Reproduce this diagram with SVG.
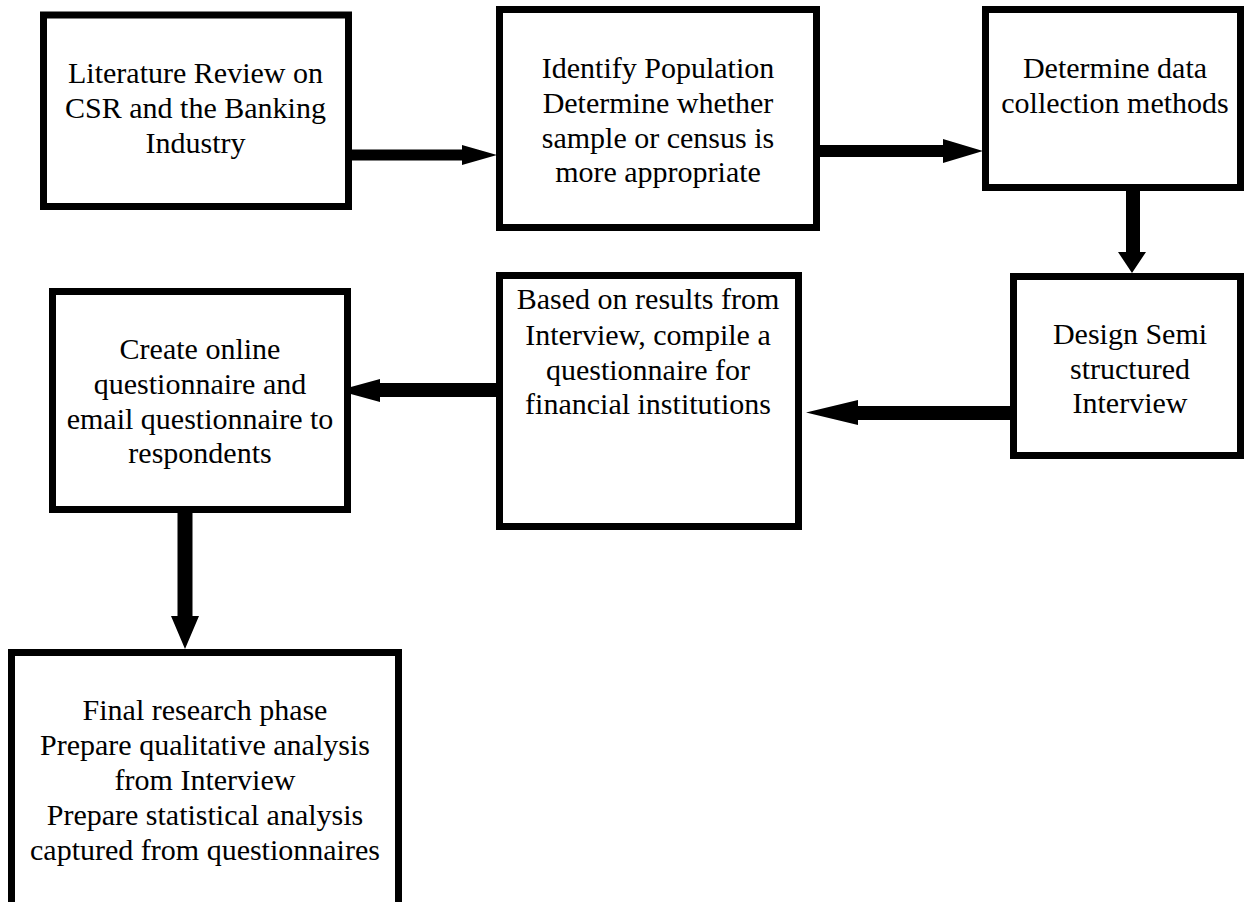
<svg xmlns="http://www.w3.org/2000/svg" width="1246" height="902" viewBox="0 0 1246 902">
<style>
.box{fill:#fff;stroke:#000;stroke-width:7}
.t{font-family:"Liberation Serif","Times New Roman",serif;font-size:30px;fill:#000;text-anchor:middle}
.arr{fill:#000}
</style>
<rect width="1246" height="902" fill="#fff"/>
<g id="connectors">
<polygon class="arr" points="352,149.5 462,149.5 462,145 497,155 462,165 462,160.5 352,160.5"/>
<polygon class="arr" points="820,145 943,145 943,139 983,151 943,163 943,157 820,157"/>
<polygon class="arr" points="1126,191 1140,191 1140,252 1146,252 1132,273 1118,252 1126,252"/>
<polygon class="arr" points="1010,406 858,406 858,400 806,412.5 858,425 858,420 1010,420"/>
<polygon class="arr" points="496,383 380,383 380,379 338,390.5 380,402 380,397 496,397"/>
<polygon class="arr" points="177.5,513 192.5,513 192.5,616 199,616 185,649 171,616 177.5,616"/>
</g>
<g id="n1">
<rect class="box" x="43.5" y="15" width="305" height="191.5"/>
<text class="t" x="195.5" y="83">Literature Review on</text>
<text class="t" x="195.5" y="118">CSR and the Banking</text>
<text class="t" x="195.5" y="153">Industry</text>
</g>
<g id="n2">
<rect class="box" x="499.5" y="9.5" width="317" height="218"/>
<text class="t" x="658" y="78">Identify Population</text>
<text class="t" x="658" y="113">Determine whether</text>
<text class="t" x="658" y="148">sample or census is</text>
<text class="t" x="658" y="182">more appropriate</text>
</g>
<g id="n3">
<rect class="box" x="985.5" y="9.5" width="255" height="178"/>
<text class="t" x="1115" y="78">Determine data</text>
<text class="t" x="1115" y="113">collection methods</text>
</g>
<g id="n4">
<rect class="box" x="1013.5" y="276.5" width="227" height="179"/>
<text class="t" x="1130" y="344">Design Semi</text>
<text class="t" x="1130" y="379">structured</text>
<text class="t" x="1130" y="413">Interview</text>
</g>
<g id="n5">
<rect class="box" x="499.5" y="275.5" width="299" height="251"/>
<text class="t" x="648" y="309">Based on results from</text>
<text class="t" x="648" y="345">Interview, compile a</text>
<text class="t" x="648" y="380">questionnaire for</text>
<text class="t" x="648" y="414">financial institutions</text>
</g>
<g id="n6">
<rect class="box" x="52.5" y="291.5" width="295" height="218"/>
<text class="t" x="200" y="359">Create online</text>
<text class="t" x="200" y="394">questionnaire and</text>
<text class="t" x="200" y="429">email questionnaire to</text>
<text class="t" x="200" y="463">respondents</text>
</g>
<g id="n7">
<rect class="box" x="11.5" y="652.5" width="387" height="300"/>
<text class="t" x="205" y="720">Final research phase</text>
<text class="t" x="205" y="755">Prepare qualitative analysis</text>
<text class="t" x="205" y="790">from Interview</text>
<text class="t" x="205" y="825">Prepare statistical analysis</text>
<text class="t" x="205" y="860">captured from questionnaires</text>
</g>
</svg>
